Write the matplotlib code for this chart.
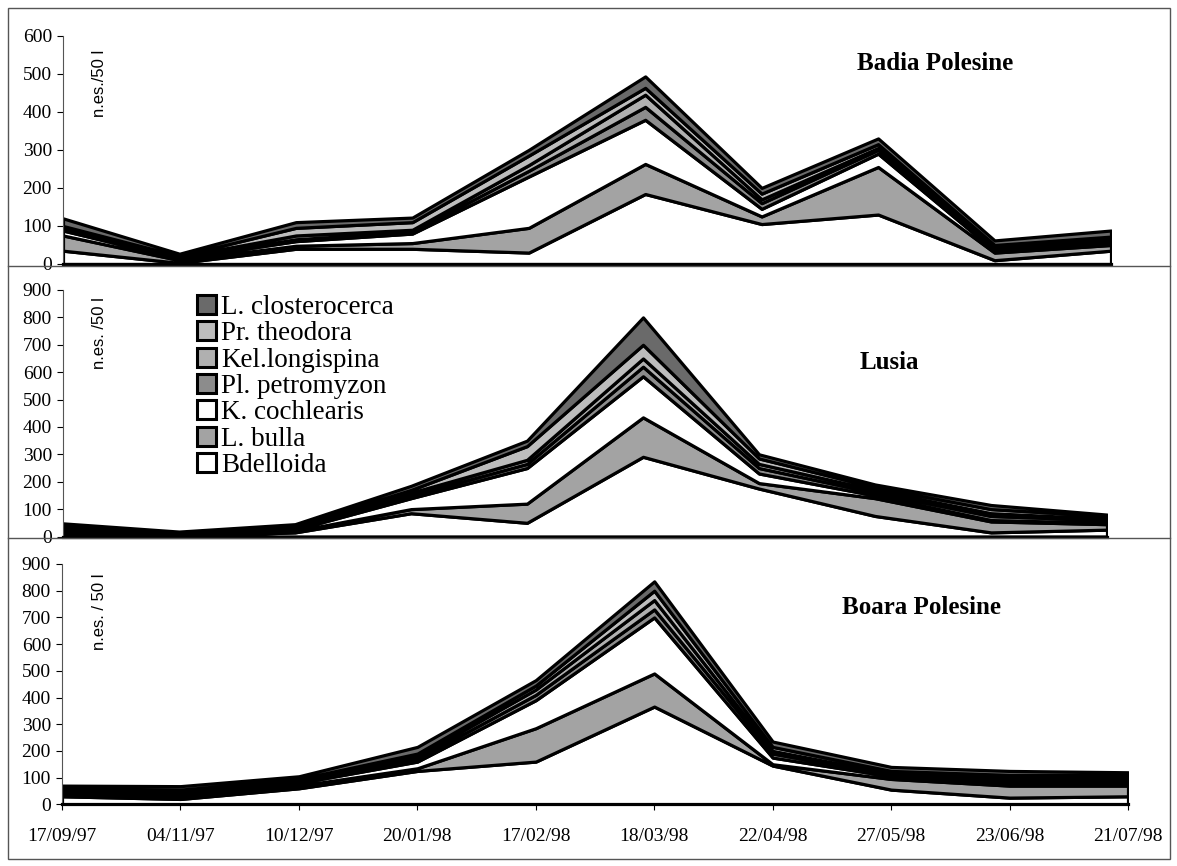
import matplotlib
matplotlib.use("Agg")
import matplotlib.pyplot as plt
from matplotlib.patches import Patch, Rectangle
from matplotlib.lines import Line2D

dates = ["17/09/97", "04/11/97", "10/12/97", "20/01/98", "17/02/98",
         "18/03/98", "22/04/98", "27/05/98", "23/06/98", "21/07/98"]

species = ["Bdelloida", "L. bulla", "K. cochlearis", "Pl. petromyzon",
           "Kel.longispina", "Pr. theodora", "L. closterocerca"]

# n. individuals / 50 l, one list per species (bottom to top of the stack)
badia_bdelloida = [35, 3, 40, 40, 30, 184, 105, 130, 10, 35]
badia_bulla     = [40, 7, 8, 15, 65, 79, 20, 125, 20, 15]
badia_coch      = [13, 4, 12, 25, 135, 116, 20, 35, 5, 5]
badia_petro     = [4, 3, 5, 5, 15, 34, 15, 10, 5, 7]
badia_longi     = [4, 2, 10, 5, 15, 32, 10, 5, 5, 6]
badia_theo      = [4, 2, 20, 20, 25, 18, 15, 10, 5, 4]
badia_closter   = [20, 6, 15, 12, 15, 30, 15, 15, 12, 16]

lusia_bdelloida = [10, 2, 15, 85, 50, 291, 175, 75, 15, 25]
lusia_bulla     = [10, 3, 5, 15, 70, 144, 20, 65, 40, 20]
lusia_coch      = [5, 2, 5, 40, 130, 150, 35, 10, 5, 5]
lusia_petro     = [5, 2, 5, 10, 15, 35, 20, 10, 15, 10]
lusia_longi     = [5, 2, 5, 10, 15, 30, 15, 10, 10, 5]
lusia_theo      = [5, 2, 5, 10, 50, 50, 20, 10, 15, 10]
lusia_closter   = [8, 5, 5, 15, 20, 100, 15, 10, 15, 5]

boara_bdelloida = [30, 20, 60, 125, 160, 366, 145, 55, 25, 30]
boara_bulla     = [10, 10, 10, 10, 125, 124, 5, 40, 45, 40]
boara_coch      = [5, 8, 10, 25, 105, 210, 25, 10, 10, 10]
boara_petro     = [5, 7, 5, 10, 20, 30, 15, 5, 10, 10]
boara_longi     = [5, 5, 5, 10, 20, 35, 10, 5, 10, 10]
boara_theo      = [5, 5, 5, 10, 15, 35, 15, 10, 10, 10]
boara_closter   = [10, 13, 10, 25, 20, 35, 20, 15, 15, 10]

colors = ["white", "#a3a3a3", "white", "#8c8c8c", "#b0b0b0", "#bdbdbd", "#6a6a6a"]

serif = ["Liberation Serif", "DejaVu Serif"]
plt.rcParams["font.family"] = serif
W, H = 1177, 866

fig = plt.figure(figsize=(W / 100, H / 100), dpi=100)


def px_axes(x0, x1, y_top, y_bot):
    return fig.add_axes([x0 / W, 1 - y_bot / H, (x1 - x0) / W, (y_bot - y_top) / H])


panels = [
    dict(name="Badia Polesine", ylab="n.es./50 l", ymax=600,
         box=(63, 1111, 35.7, 264), title_xy=(935, 63), ylab_top=50,
         data=[badia_bdelloida, badia_bulla, badia_coch, badia_petro,
               badia_longi, badia_theo, badia_closter]),
    dict(name="Lusia", ylab="n.es. /50 l", ymax=900,
         box=(63, 1107, 290, 536.5), title_xy=(889, 363), ylab_top=297,
         data=[lusia_bdelloida, lusia_bulla, lusia_coch, lusia_petro,
               lusia_longi, lusia_theo, lusia_closter]),
    dict(name="Boara Polesine", ylab="n.es. / 50 l", ymax=900,
         box=(62, 1128, 564, 804.3), title_xy=(922, 607), ylab_top=573,
         data=[boara_bdelloida, boara_bulla, boara_coch, boara_petro,
               boara_longi, boara_theo, boara_closter]),
]

x = list(range(len(dates)))
for i, p in enumerate(panels):
    ax = px_axes(*p["box"])
    ax.stackplot(x, *p["data"], colors=colors, edgecolor="black",
                 linewidth=2.3, labels=species)
    ax.set_xlim(0, len(dates) - 1)
    ax.set_ylim(0, p["ymax"])
    ax.set_yticks(range(0, p["ymax"] + 1, 100))
    ax.set_xticks(x)
    ax.spines["top"].set_visible(False)
    ax.spines["right"].set_visible(False)
    ax.spines["left"].set_color("#555555")
    ax.spines["left"].set_linewidth(0.8)
    ax.spines["bottom"].set_linewidth(2.3)
    ax.tick_params(axis="y", direction="out", length=4, width=0.8,
                   labelsize=14, pad=4)
    ax.tick_params(axis="x", direction="out", length=4, width=0.8, labelsize=14)
    if i == 2:
        ax.set_xticklabels(dates)
        ax.tick_params(axis="x", pad=13)
    else:
        ax.set_xticklabels([])
        ax.tick_params(axis="x", length=0)
    ax.patch.set_alpha(0)
    fig.text(99 / W, 1 - p["ylab_top"] / H, p["ylab"], rotation=90,
             ha="center", va="top", fontsize=12,
             family=["Liberation Sans", "DejaVu Sans"])
    fig.text(p["title_xy"][0] / W, 1 - p["title_xy"][1] / H, p["name"],
             ha="center", va="center", fontsize=18, fontweight="bold")

# legend (reversed so the top layer is listed first)
handles = [Patch(facecolor=c, edgecolor="black", linewidth=2.2)
           for c in colors][::-1]
fig.legend(handles, species[::-1], loc="upper left",
           bbox_to_anchor=(197 / W, 1 - 295 / H), frameon=False,
           prop={"size": 19.5}, handlelength=0.7, handleheight=0.7,
           handletextpad=0.2, labelspacing=0.05, borderaxespad=0, borderpad=0)

# outer frame and panel separators
fig.add_artist(Rectangle((8 / W, 1 - 859 / H), (1170 - 8) / W, (859 - 8) / H,
                         transform=fig.transFigure, fill=False,
                         edgecolor="#555555", linewidth=1.0))
for yy in (265.5, 538):
    fig.add_artist(Line2D([8 / W, 1170 / W], [1 - yy / H, 1 - yy / H],
                          transform=fig.transFigure, color="#555555", linewidth=1.0))

fig.savefig("out.png", dpi=100, facecolor="white")
